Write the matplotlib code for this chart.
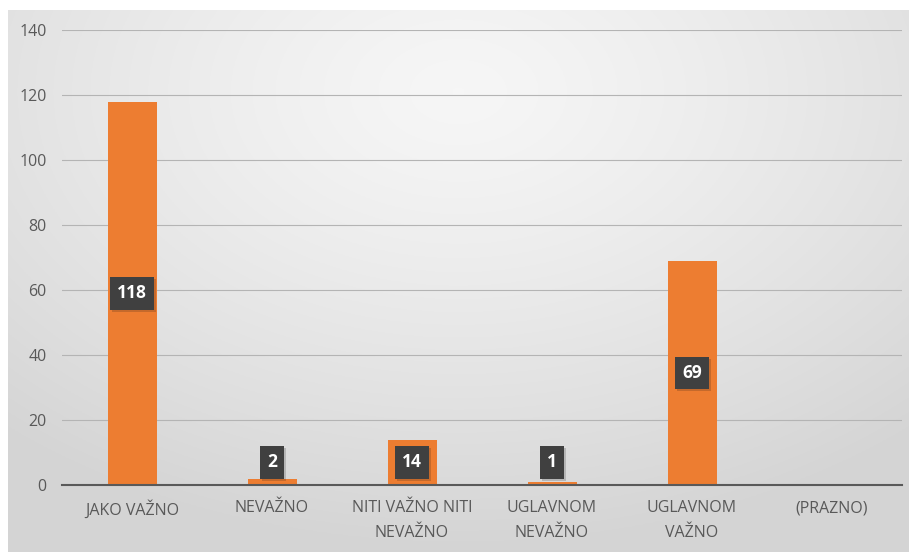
import numpy as np
import matplotlib
matplotlib.use("Agg")
import matplotlib.pyplot as plt
import matplotlib.patheffects as pe

# data
categories = ["JAKO VAŽNO", "NEVAŽNO", "NITI VAŽNO NITI\nNEVAŽNO",
              "UGLAVNOM\nNEVAŽNO", "UGLAVNOM\nVAŽNO", "(PRAZNO)"]
values = [118, 2, 14, 1, 69, None]
y_ticks = [0, 20, 40, 60, 80, 100, 120, 140]

BAR_COLOR = "#ED7D31"
TEXT_COLOR = "#595959"
LABEL_BOX = "#404040"

plt.rcParams["font.family"] = ["Open Sans", "DejaVu Sans"]

W, H = 909, 552
fig = plt.figure(figsize=(W / 100, H / 100), dpi=100)

# gradient background (chart area), white margin on top/left like the original
bg = fig.add_axes([8 / W, 0, 1 - 8 / W, 1 - 10 / H])
bg.set_axis_off()
yy, xx = np.mgrid[0:1:300j, 0:1:500j]
r = np.sqrt(((xx - 0.5) * 1.0) ** 2 + ((yy - 0.15) * 0.9) ** 2)
shade = 0.965 - 0.13 * np.clip(r / 0.75, 0, 1) ** 1.3
bg.imshow(np.dstack([shade] * 3), aspect="auto", extent=[0, 1, 0, 1], origin="upper")

# plot area: x 62..902 px, y 30..485 px
ax = fig.add_axes([62 / W, 1 - 485 / H, (902 - 62) / W, (485 - 30) / H])
ax.patch.set_alpha(0)

x = np.arange(len(categories))
heights = [v if v is not None else 0 for v in values]
bars = ax.bar(x, heights, width=0.35, color=BAR_COLOR, zorder=3)

ax.set_xlim(-0.5, len(categories) - 0.5)
ax.set_ylim(0, 140)
ax.set_yticks(y_ticks)
ax.set_yticklabels([str(t) for t in y_ticks], fontsize=11.5, color=TEXT_COLOR)
ax.set_xticks(x)
ax.set_xticklabels(categories, fontsize=11.5, color=TEXT_COLOR, linespacing=1.75)
ax.tick_params(axis="both", length=0)
ax.tick_params(axis="x", pad=11)
ax.tick_params(axis="y", pad=11)

ax.grid(axis="y", color="#b4b4b4", linewidth=0.8, zorder=0)
for s in ["top", "right", "left"]:
    ax.spines[s].set_visible(False)
ax.spines["bottom"].set_color("#595959")
ax.spines["bottom"].set_linewidth(1.5)
ax.spines["bottom"].set_zorder(4)

# data labels: centred in the bar, pushed up for the tiny ones
for xi, v in zip(x, values):
    if v is None:
        continue
    ly = max(v / 2, 7)
    ax.text(xi, ly, str(v), ha="center", va="center", color="white",
            fontsize=12.5, fontweight="bold", zorder=6,
            bbox=dict(boxstyle="square,pad=0.42", facecolor=LABEL_BOX,
                      edgecolor="none",
                      path_effects=[pe.SimplePatchShadow(offset=(1.5, -1.5), alpha=0.18),
                                    pe.Normal()]))

fig.savefig("out.png", dpi=100)
